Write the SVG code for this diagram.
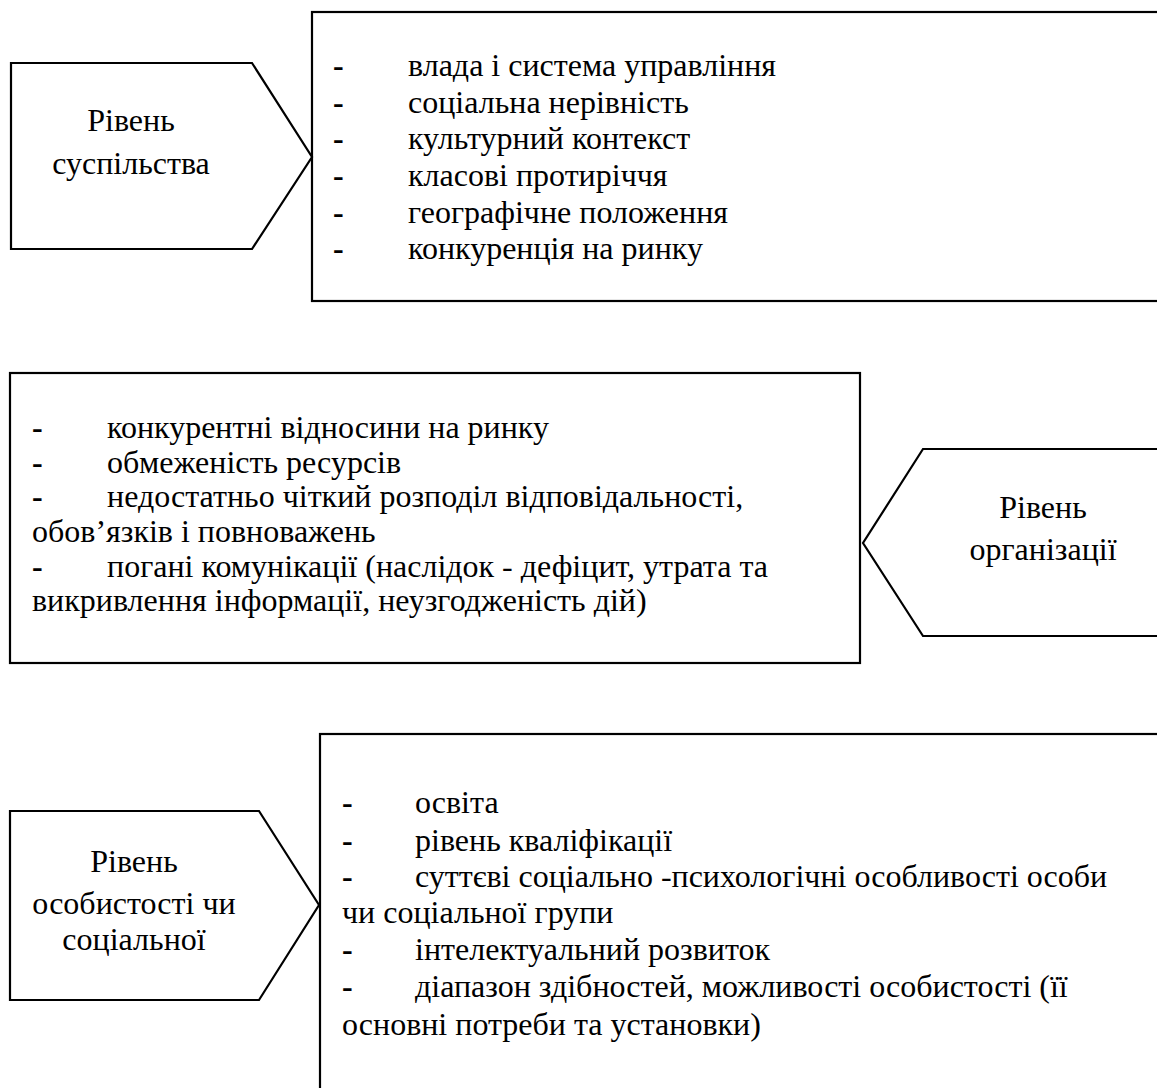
<svg xmlns="http://www.w3.org/2000/svg" width="1157" height="1088" viewBox="0 0 1157 1088">
<style>
.shape{fill:#fff;stroke:#000;stroke-width:2.2}
.t{font-family:"Liberation Serif","Times New Roman",Tinos,serif;fill:#000}
.big{font-size:32px}
.lab{font-size:32px;text-anchor:middle}
.d{font-weight:bold}
</style>
<rect width="1157" height="1088" fill="#fff"/>
<g id="connectors"></g>

<g id="box-society">
<rect class="shape" x="312" y="12" width="870" height="289"/>
<g class="t big">
<text class="d" x="333" y="76">-</text><text x="408" y="76">влада і система управління</text>
<text class="d" x="333" y="113">-</text><text x="408" y="113">соціальна нерівність</text>
<text class="d" x="333" y="149">-</text><text x="408" y="149">культурний контекст</text>
<text class="d" x="333" y="186">-</text><text x="408" y="186">класові протиріччя</text>
<text class="d" x="333" y="223">-</text><text x="408" y="223">географічне положення</text>
<text class="d" x="333" y="259">-</text><text x="408" y="259">конкуренція на ринку</text>
</g>
</g>

<g id="label-society">
<polygon class="shape" points="11,63 252,63 312,157 252,249 11,249"/>
<text class="t lab" x="131" y="131">Рівень</text>
<text class="t lab" x="131" y="174">суспільства</text>
</g>

<g id="box-organization">
<rect class="shape" x="10" y="373" width="850" height="290"/>
<g class="t big">
<text class="d" x="32" y="438">-</text><text x="107" y="438">конкурентні відносини на ринку</text>
<text class="d" x="32" y="473">-</text><text x="107" y="473">обмеженість ресурсів</text>
<text class="d" x="32" y="507">-</text><text x="107" y="507">недостатньо чіткий розподіл відповідальності,</text>
<text x="32" y="542">обов’язків і повноважень</text>
<text class="d" x="32" y="577">-</text><text x="107" y="577">погані комунікації (наслідок - дефіцит, утрата та</text>
<text x="32" y="611">викривлення інформації, неузгодженість дій)</text>
</g>
</g>

<g id="label-organization">
<polygon class="shape" points="1170,449 923,449 863,543 923,636 1170,636"/>
<text class="t lab" x="1043" y="518">Рівень</text>
<text class="t lab" x="1043" y="560">організації</text>
</g>

<g id="box-personality">
<rect class="shape" x="320" y="734" width="870" height="400"/>
<g class="t big">
<text class="d" x="342" y="813">-</text><text x="415" y="813">освіта</text>
<text class="d" x="342" y="851">-</text><text x="415" y="851">рівень кваліфікації</text>
<text class="d" x="342" y="887">-</text><text x="415" y="887">суттєві соціально -психологічні особливості особи</text>
<text x="342" y="923">чи соціальної групи</text>
<text class="d" x="342" y="960">-</text><text x="415" y="960">інтелектуальний розвиток</text>
<text class="d" x="342" y="997">-</text><text x="415" y="997">діапазон здібностей, можливості особистості (її</text>
<text x="342" y="1035">основні потреби та установки)</text>
</g>
</g>

<g id="label-personality">
<polygon class="shape" points="10,811 259,811 319,905 259,1000 10,1000"/>
<text class="t lab" x="134" y="872">Рівень</text>
<text class="t lab" x="134" y="914">особистості чи</text>
<text class="t lab" x="134" y="950">соціальної</text>
</g>
</svg>
